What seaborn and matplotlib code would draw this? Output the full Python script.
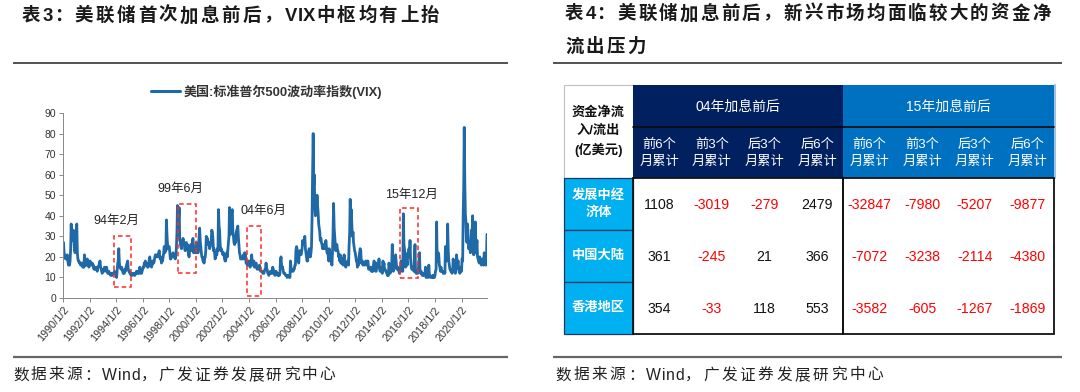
import numpy as np
import pandas as pd
import matplotlib
matplotlib.use("Agg")
import matplotlib.pyplot as plt
import matplotlib.dates as mdates
from matplotlib.patches import Rectangle
import seaborn as sns

sns.set_theme(style="white")
plt.rcParams['font.family'] = ['Liberation Sans', 'Noto Sans CJK SC', 'DejaVu Sans']

# ---------------- data ----------------
# VIX, two readings per month (1st and 15th), Jan 1990 - Dec 2021
vix_values = [
    24, 27, 22, 21, 20, 19, 20, 19, 21, 18, 16, 17, 16, 18, 24, 36, 28, 30, 31, 33, 27, 23, 22, 25,  # 1990
    30, 36, 22, 19, 18, 18, 17, 17, 16, 17, 16, 17, 15, 16, 15, 21, 16, 16, 17, 16, 19, 18, 16, 15,  # 1991
    17, 18, 17, 16, 16, 17, 16, 16, 14, 15, 14, 14, 14, 15, 13, 15, 15, 16, 17, 18, 15, 14, 13, 12,  # 1992
    13, 14, 14, 15, 13, 14, 14, 15, 13, 12, 12, 13, 12, 12, 11, 12, 12, 11, 12, 12, 12, 13, 12, 11,  # 1993
    11, 10, 14, 17, 18, 24, 17, 15, 15, 14, 15, 14, 13, 12, 13, 12, 14, 13, 15, 16, 17, 18, 14, 13,  # 1994
    13, 12, 12, 11, 12, 11, 12, 12, 12, 11, 11, 12, 12, 13, 13, 12, 13, 12, 13, 15, 12, 12, 12, 13,  # 1995
    14, 15, 15, 17, 16, 18, 16, 17, 16, 15, 15, 16, 19, 20, 17, 16, 15, 16, 18, 17, 17, 18, 20, 21,  # 1996
    21, 20, 20, 21, 20, 22, 23, 20, 19, 20, 17, 18, 18, 20, 22, 25, 22, 24, 23, 38, 30, 26, 24, 25,  # 1997
    25, 22, 19, 19, 20, 20, 21, 22, 20, 21, 20, 19, 21, 24, 32, 45, 40, 38, 44, 29, 27, 25, 24, 27,  # 1998
    26, 29, 26, 27, 24, 23, 26, 27, 24, 26, 23, 21, 20, 23, 24, 26, 23, 25, 27, 29, 22, 22, 24, 24,  # 1999
    22, 27, 22, 24, 22, 25, 30, 34, 28, 25, 22, 20, 20, 18, 18, 17, 19, 20, 23, 30, 26, 29, 27, 26,  # 2000
    27, 24, 25, 27, 28, 33, 32, 29, 23, 24, 22, 19, 20, 22, 21, 24, 23, 43, 35, 33, 26, 23, 24, 23,  # 2001
    22, 21, 22, 21, 19, 18, 18, 21, 22, 20, 24, 27, 30, 44, 33, 31, 35, 42, 43, 32, 30, 27, 26, 29,  # 2002
    27, 32, 33, 34, 35, 30, 26, 22, 21, 19, 19, 19, 20, 19, 21, 19, 22, 22, 21, 17, 18, 16, 17, 18,  # 2003
    18, 16, 15, 16, 18, 21, 17, 16, 17, 18, 15, 15, 16, 17, 15, 14, 14, 14, 14, 16, 15, 13, 13, 13,  # 2004
    13, 12, 12, 12, 13, 14, 14, 17, 14, 14, 12, 12, 11, 12, 12, 13, 12, 12, 12, 15, 14, 13, 12, 11,  # 2005
    12, 13, 12, 12, 11, 11, 12, 11, 12, 18, 20, 16, 15, 15, 13, 12, 12, 12, 11, 11, 11, 10, 11, 11,  # 2006
    11, 10, 10, 18, 15, 14, 13, 13, 13, 14, 14, 16, 16, 23, 25, 24, 21, 18, 17, 22, 23, 22, 21, 22,  # 2007
    24, 28, 26, 27, 26, 30, 24, 22, 20, 18, 18, 21, 23, 24, 21, 20, 22, 25, 39, 60, 80, 55, 60, 44,  # 2008
    40, 45, 44, 50, 45, 42, 36, 34, 32, 28, 29, 27, 26, 24, 26, 24, 25, 25, 24, 28, 25, 22, 22, 21,  # 2009
    18, 24, 22, 19, 18, 17, 16, 22, 32, 46, 34, 30, 26, 23, 25, 26, 23, 23, 20, 21, 18, 21, 17, 17,  # 2010
    17, 19, 16, 18, 21, 17, 16, 15, 16, 17, 18, 17, 16, 25, 32, 48, 38, 43, 35, 30, 32, 27, 25, 23,  # 2011
    22, 20, 18, 18, 15, 16, 16, 20, 22, 24, 23, 17, 17, 18, 16, 17, 17, 16, 17, 18, 16, 17, 18, 18,  # 2012
    14, 14, 14, 15, 15, 13, 13, 14, 13, 16, 18, 17, 14, 13, 13, 17, 15, 16, 15, 19, 14, 13, 15, 14,  # 2013
    13, 12, 18, 15, 17, 14, 14, 13, 13, 12, 11, 12, 11, 17, 15, 12, 13, 16, 17, 26, 14, 13, 16, 20,  # 2014
    17, 21, 17, 14, 15, 15, 14, 13, 12, 13, 14, 18, 16, 13, 13, 41, 26, 24, 20, 15, 16, 18, 16, 22,  # 2015
    20, 24, 22, 28, 19, 16, 14, 14, 14, 15, 13, 21, 26, 13, 12, 12, 12, 12, 14, 17, 22, 13, 12, 13,  # 2016
    12, 11, 11, 12, 11, 12, 12, 15, 10, 10, 11, 11, 10, 16, 11, 11, 10, 10, 10, 10, 11, 10, 11, 10,  # 2017
    11, 13, 14, 37, 19, 18, 22, 21, 16, 15, 13, 15, 13, 13, 13, 12, 12, 12, 12, 25, 20, 18, 21, 36,  # 2018
    23, 18, 16, 14, 14, 13, 13, 12, 13, 19, 16, 15, 13, 12, 13, 21, 18, 17, 18, 14, 14, 12, 15, 13,  # 2019
    13, 19, 18, 40, 54, 83, 55, 41, 37, 28, 27, 36, 30, 24, 25, 24, 22, 26, 33, 30, 40, 23, 21, 22,  # 2020
    26, 37, 22, 25, 28, 20, 19, 18, 17, 20, 18, 17, 16, 18, 19, 17, 16, 22, 21, 19, 16, 18, 31,      # 2021
]
vix_dates = pd.date_range('1990-01-01', periods=len(vix_values), freq='SMS')
series_name = '美国:标准普尔500波动率指数(VIX)'

tick_dates = [f'{y}-01-02' for y in range(1990, 2021, 2)]
tick_labels = [f'{y}/1/2' for y in range(1990, 2021, 2)]

# annotated hike windows: (label, box start, box end, box low, box high, label date, label y)
hike_marks = [
    ('94年2月', '1993-10-28', '1995-02-15', 5.5, 30, '1994-01-20', 37.5),
    ('99年6月', '1998-09-01', '2000-01-01', 12.3, 45.5, '1998-11-15', 53),
    ('04年6月', '2003-11-10', '2004-11-20', 1, 35, '2005-02-01', 42.5),
    ('15年12月', '2015-05-05', '2016-09-10', 9.7, 44, '2016-03-25', 50),
]

# table
row_names = ['发展中经\n济体', '中国大陆', '香港地区']
group_names = ['04年加息前后', '15年加息前后']
sub_names = ['前6个\n月累计', '前3个\n月累计', '后3个\n月累计', '后6个\n月累计']
flows_04 = [[1108, -3019, -279, 2479],
            [361, -245, 21, 366],
            [354, -33, 118, 553]]
flows_15 = [[-32847, -7980, -5207, -9877],
            [-7072, -3238, -2114, -4380],
            [-3582, -605, -1267, -1869]]

title_left = '表3：美联储首次加息前后，VIX中枢均有上抬'
title_right_1 = '表4：美联储加息前后，新兴市场均面临较大的资金净'
title_right_2 = '流出压力'
source_text = '数据来源：Wind，广发证券发展研究中心'

# ---------------- figure ----------------
W, H = 1080, 392
fig = plt.figure(figsize=(W / 100, H / 100), dpi=100)
fig.patch.set_facecolor('white')

ov = fig.add_axes([0, 0, 1, 1])
ov.set_xlim(0, W)
ov.set_ylim(H, 0)
ov.axis('off')
ov.patch.set_visible(False)
renderer = fig.canvas.get_renderer()


def is_wide(ch):
    return ord(ch) > 0x2000


def spaced_text(x, y, s, target_w=None, spacing=0.0, **kw):
    """Lay out text char by char, adding extra tracking after wide (CJK) glyphs."""
    items = []
    for ch in s:
        t = ov.text(x, y, ch, ha='left', va='center', **kw)
        items.append((t, t.get_window_extent(renderer).width, is_wide(ch)))
    n_gaps = sum(1 for _, _, wd in items[:-1] if wd)
    if target_w is not None and n_gaps:
        spacing = (target_w - sum(w for _, w, _ in items)) / n_gaps
    cx = x
    for t, w, wd in items:
        t.set_x(cx)
        cx += w + (spacing if wd else 0.6)
    return spacing


title_col = '#1a1a1a'
tkw = dict(fontsize=13.3, weight='bold', color=title_col)
spaced_text(22, 16, title_left, target_w=415, **tkw)
sp = spaced_text(565, 14, title_right_1, target_w=485, **tkw)
spaced_text(565, 47, title_right_2, spacing=sp, **tkw)

for x0, x1 in [(13, 508), (553, 1062)]:
    ov.plot([x0, x1], [63, 63], color='#333333', lw=1.2, solid_capstyle='butt')
    ov.plot([x0, x1], [357, 357], color='#666666', lw=1.6, solid_capstyle='butt')
skw = dict(fontsize=11.3, color='#222222')
spaced_text(13, 375, source_text, target_w=320, **skw)
spaced_text(555, 375, source_text, target_w=326, **skw)

# ---------------- line chart ----------------
ax = fig.add_axes([63 / W, (H - 298) / H, (487 - 63) / W, (298 - 113) / H])
df = pd.DataFrame({'date': vix_dates, 'vix': vix_values})
sns.lineplot(data=df, x='date', y='vix', ax=ax, color='#1f69a6', lw=2.0, label=series_name)
ax.set_xlim(pd.Timestamp('1990-01-02'), pd.Timestamp('2021-12-01'))
ax.set_ylim(0, 90)
ax.set_yticks(range(0, 91, 10))
ax.set_xticks(pd.to_datetime(tick_dates))
ax.set_xticklabels(tick_labels, rotation=50, ha='right', rotation_mode='anchor', fontsize=7.8, color='#333333')
ax.tick_params(axis='y', labelsize=7.5, labelcolor='#333333', length=3, color='#888888', width=0.7, pad=2)
ax.tick_params(axis='x', length=3, color='#888888', width=0.7, pad=2)
ax.tick_params(axis='both', direction='out', bottom=True, left=True)
ax.set_xlabel('')
ax.set_ylabel('')
for s in ['top', 'right']:
    ax.spines[s].set_visible(False)
for s in ['left', 'bottom']:
    ax.spines[s].set_color('#888888')
    ax.spines[s].set_linewidth(0.7)
leg = ax.legend(loc='center', bbox_to_anchor=(0.48, 1.115), frameon=False, handlelength=2.2,
                handletextpad=0.3, prop={'size': 9.4, 'weight': 'bold'})
for t in leg.get_texts():
    t.set_color('#333333')
for l in leg.get_lines():
    l.set_linewidth(2.2)

for lab, d0, d1, y0, y1, dl, yl in hike_marks:
    x0 = mdates.date2num(pd.Timestamp(d0))
    x1 = mdates.date2num(pd.Timestamp(d1))
    ax.add_patch(Rectangle((x0, y0), x1 - x0, y1 - y0, fill=False, edgecolor='#ff2a2a',
                           lw=1.1, ls=(0, (3, 2)), zorder=5))
    ax.text(pd.Timestamp(dl), yl, lab, fontsize=9, color='#222222', ha='center', va='center', zorder=6)

# ---------------- table ----------------
tx0, ty0 = 564, 85
first_w = 69
col_w = 52.6
h_top, h_sub, h_row = 42, 51, 52
hdr_bot = ty0 + h_top + h_sub
gx = [tx0 + first_w, tx0 + first_w + 4 * col_w, tx0 + first_w + 8 * col_w]
navy, blue, cyan = '#002060', '#0070C0', '#00B0F0'

ov.add_patch(Rectangle((tx0, ty0), first_w, h_top + h_sub, facecolor='white', edgecolor='#bfbfbf', lw=0.8))
ov.add_patch(Rectangle((gx[0], ty0), gx[1] - gx[0], h_top + h_sub, facecolor=navy, edgecolor='none'))
ov.add_patch(Rectangle((gx[1], ty0), gx[2] - gx[1], h_top + h_sub, facecolor=blue, edgecolor='none'))
ov.plot([gx[2] + 1.5, gx[2] + 1.5], [ty0, hdr_bot], color='#9dc3e6', lw=1.5)
ov.plot([gx[0], gx[2]], [ty0 + h_top, ty0 + h_top], color='#0a0a0a', lw=1.2)
ov.text(tx0 + first_w / 2, ty0 + (h_top + h_sub) / 2, '资金净流\n入/流出\n(亿美元)', fontsize=9.5,
        weight='bold', color='#111111', ha='center', va='center', linespacing=1.55)
for g, name in enumerate(group_names):
    ov.text((gx[g] + gx[g + 1]) / 2, ty0 + h_top / 2 + 1, name, fontsize=10, color='white',
            ha='center', va='center')
    for k, sn in enumerate(sub_names):
        cx = gx[g] + (k + 0.5) * col_w
        ov.text(cx, ty0 + h_top + h_sub / 2 + 1, sn, fontsize=9.5, color='white',
                ha='center', va='center', linespacing=1.5)

for i, rn in enumerate(row_names):
    ry = hdr_bot + i * h_row
    ov.add_patch(Rectangle((tx0, ry), first_w, h_row, facecolor=cyan, edgecolor='#1f3864', lw=0.9))
    ov.text(tx0 + first_w / 2, ry + h_row / 2, rn, fontsize=9.5, weight='bold', color='white',
            ha='center', va='center', linespacing=1.45)
    for g, vals in enumerate([flows_04, flows_15]):
        for k, v in enumerate(vals[i]):
            cx = gx[g] + (k + 0.5) * col_w
            ov.text(cx, ry + h_row / 2 + 1, f'{v}', fontsize=10.2,
                    color='#ff0000' if v < 0 else '#111111', ha='center', va='center')

for g in range(2):
    ov.add_patch(Rectangle((gx[g], hdr_bot), gx[g + 1] - gx[g], 3 * h_row, facecolor='none',
                           edgecolor='#111111', lw=1.3, zorder=4))

fig.savefig('out.png', dpi=100, facecolor='white')
